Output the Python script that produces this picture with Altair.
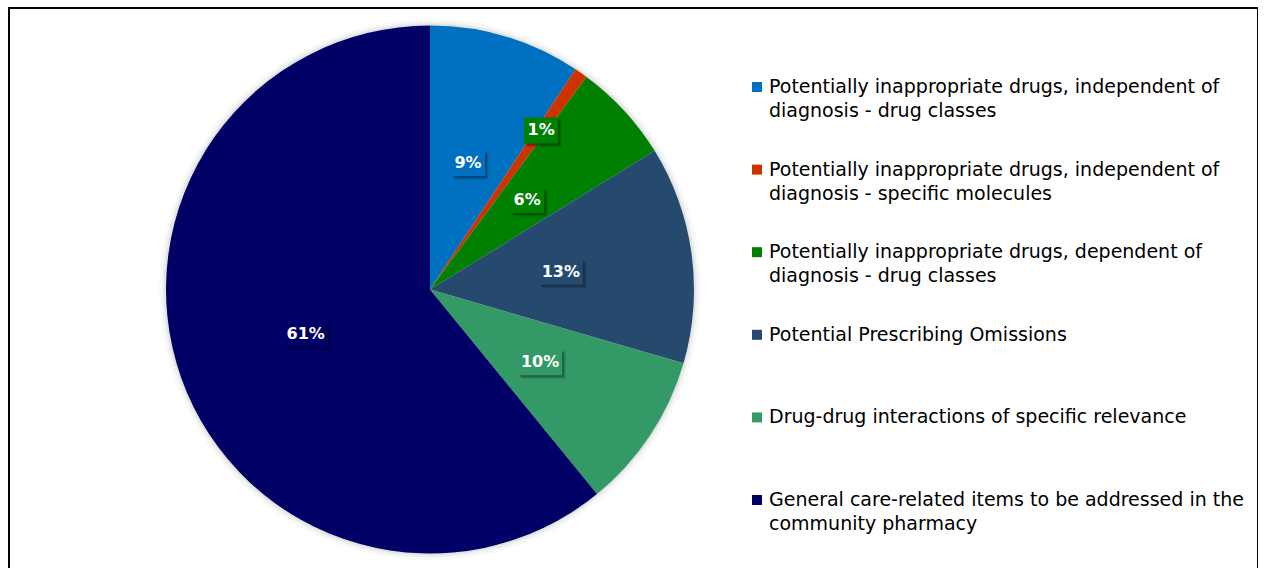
import altair as alt
import pandas as pd

# ---- data ----
categories = [
    "Potentially inappropriate drugs, independent of\ndiagnosis - drug classes",
    "Potentially inappropriate drugs, independent of\ndiagnosis - specific molecules",
    "Potentially inappropriate drugs, dependent of\ndiagnosis - drug classes",
    "Potential Prescribing Omissions",
    "Drug-drug interactions of specific relevance",
    "General care-related items to be addressed in the\ncommunity pharmacy",
]
values = [9.3, 0.8, 6.1, 13.3, 9.6, 60.9]

# ---- styles ----
colors = ["#0070C0", "#CC3300", "#008000", "#264A6E", "#339966", "#000066"]
box_colors = ["#0070C0", "#008000", "#008000", "#264A6E", "#339966", "#000066"]

CX, CY, R = 421, 281.5, 264
FONT = "DejaVu Sans"

df = pd.DataFrame({"category": categories, "value": values, "idx": list(range(len(values)))})

base = alt.Chart(df).transform_window(
    cum="sum(value)", sort=[alt.SortField("idx")], frame=[None, 0]
).transform_joinaggregate(
    total="sum(value)"
).transform_calculate(
    mid="(datum.cum - datum.value / 2) / datum.total * 2 * PI",
    lr=f"datum.value / datum.total < 0.02 ? {R * 0.735} : {R * 0.5}",
    label="format(datum.value, '.0f') + '%'",
).transform_calculate(
    px=f"{CX} + datum.lr * sin(datum.mid)",
    py=f"{CY} - datum.lr * cos(datum.mid)",
    bw="length(datum.label) <= 2 ? 34 : 44",
).transform_calculate(
    bx0="datum.px - datum.bw / 2",
    bx1="datum.px + datum.bw / 2",
    by0="datum.py - 13",
    by1="datum.py + 13",
)

color_scale = alt.Scale(domain=categories, range=colors)

rings = [
    base.mark_arc(outerRadius=R + r, fill="black", opacity=op).encode(
        theta=alt.Theta("value:Q", stack=True), x=alt.value(CX), y=alt.value(CY)
    )
    for r, op in [(7, 0.025), (4, 0.035), (2, 0.05)]
]

arcs = base.mark_arc(outerRadius=R).encode(
    theta=alt.Theta("value:Q", stack=True),
    color=alt.Color("category:N", scale=color_scale, legend=None),
    order=alt.Order("idx:Q"),
    x=alt.value(CX),
    y=alt.value(CY),
)

def shadow(dx, op):
    return base.mark_rect(color="black", opacity=op, xOffset=dx, yOffset=dx, x2Offset=dx, y2Offset=dx).encode(
        x=alt.X("bx0:Q", scale=None, axis=None),
        x2="bx1:Q",
        y=alt.Y("by0:Q", scale=None, axis=None),
        y2="by1:Q",
    )

boxes = base.mark_rect().encode(
    x=alt.X("bx0:Q", scale=None, axis=None),
    x2="bx1:Q",
    y=alt.Y("by0:Q", scale=None, axis=None),
    y2="by1:Q",
    fill=alt.Fill("category:N", scale=alt.Scale(domain=categories, range=box_colors), legend=None),
)

labels = base.mark_text(
    font=FONT, fontSize=16, fontWeight="bold", color="white", align="center", baseline="middle"
).encode(
    x=alt.X("px:Q", scale=None, axis=None),
    y=alt.Y("py:Q", scale=None, axis=None),
    text="label:N",
)

leg_y = alt.Y("category:N", scale=alt.Scale(domain=categories, range=[85, 498], padding=0), axis=None)

leg_sq = base.mark_square(size=100, opacity=1, yOffset=-6).encode(
    x=alt.value(748),
    y=leg_y,
    color=alt.Color("category:N", scale=color_scale, legend=None),
)

leg_txt = base.mark_text(
    font=FONT, fontSize=19, color="#000000", align="left", baseline="alphabetic",
    lineBreak="\n", lineHeight=24,
).encode(
    x=alt.value(760),
    y=leg_y,
    text="category:N",
)

chart = alt.layer(
    *rings, arcs, shadow(3.5, 0.15), shadow(2, 0.25), boxes, labels, leg_sq, leg_txt
).resolve_scale(
    y="independent", x="independent", color="shared", fill="independent"
).properties(
    width=1249, height=575,
    padding={"left": 9, "top": 8, "right": 0, "bottom": 0},
    autosize=alt.AutoSizeParams(type="none"),
    background="white",
).configure_view(stroke="black", strokeWidth=2)

chart.save("out.html", embed_options={"renderer": "svg", "actions": False})
